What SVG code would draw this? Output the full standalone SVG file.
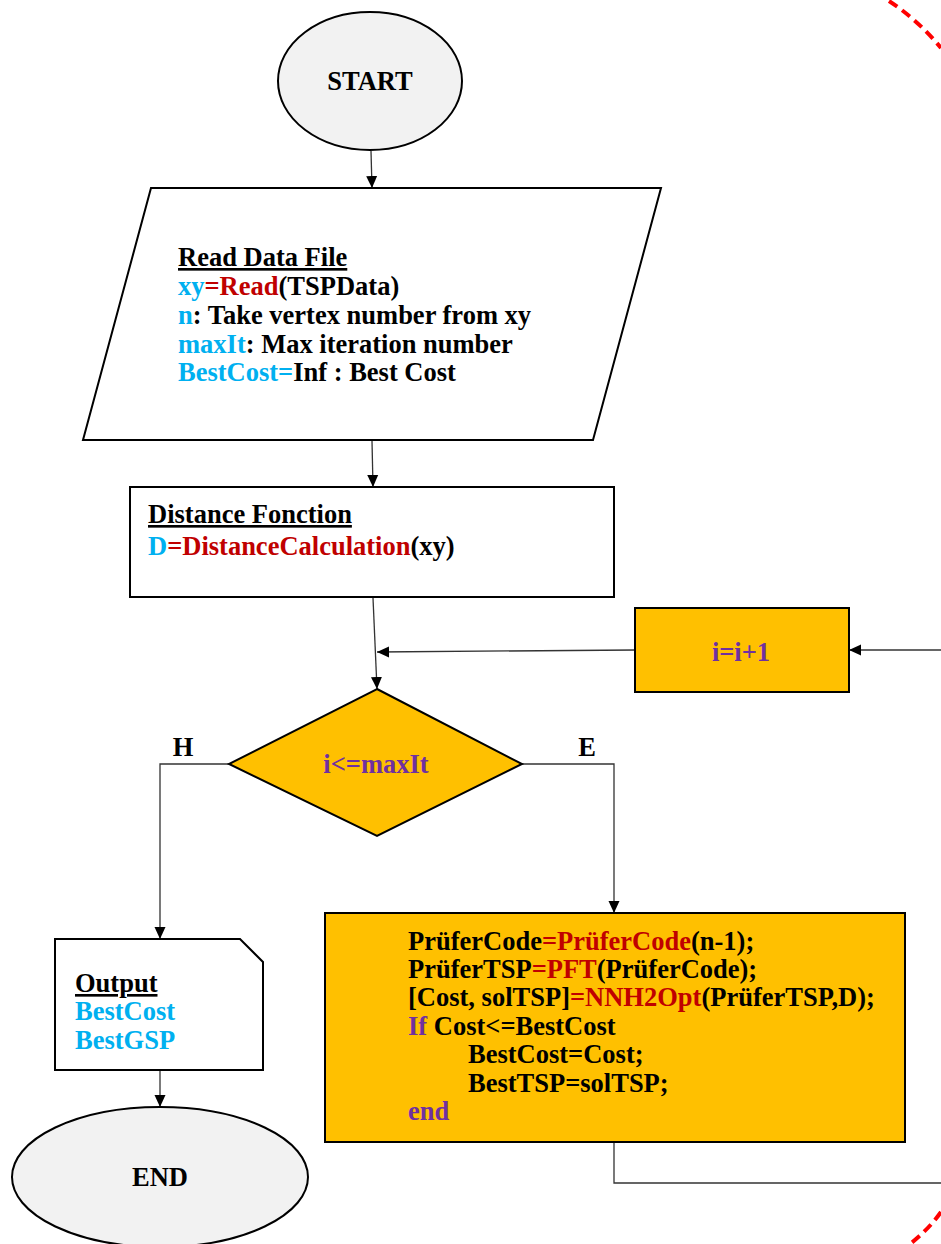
<svg xmlns="http://www.w3.org/2000/svg" width="941" height="1244" viewBox="0 0 941 1244">
<style>
text{font-family:"Liberation Serif","Times New Roman",serif;font-weight:bold;font-size:26.5px;fill:#000}
.node{stroke:#000;stroke-width:2}
.term{fill:#F2F2F2}
.w{fill:#fff}
.o{fill:#FFC000}
.c{fill:#00B0F0}
.r{fill:#C00000}
.p{fill:#7030A0}
.u{text-decoration:underline}
.conn{fill:none;stroke:#333;stroke-width:1.3}
</style>
<defs>
<marker id="ah" markerWidth="13" markerHeight="13" refX="12" refY="6.5" orient="auto" markerUnits="userSpaceOnUse">
<path d="M0,1 L12,6.5 L0,12 Z" fill="#000"/>
</marker>
</defs>
<g id="connectors">
<line class="conn" x1="371" y1="151" x2="372" y2="188" marker-end="url(#ah)"/>
<line class="conn" x1="372" y1="441" x2="373" y2="487" marker-end="url(#ah)"/>
<line class="conn" x1="373" y1="598" x2="377" y2="689" marker-end="url(#ah)"/>
<line class="conn" x1="635" y1="650" x2="377" y2="652" marker-end="url(#ah)"/>
<line class="conn" x1="941" y1="650" x2="849" y2="650" marker-end="url(#ah)"/>
<path class="conn" d="M229,764 H160 V939" marker-end="url(#ah)"/>
<path class="conn" d="M522,764 H614 V913" marker-end="url(#ah)"/>
<line class="conn" x1="160" y1="1071" x2="160" y2="1107" marker-end="url(#ah)"/>
<path class="conn" d="M614,1143 V1183 H941"/>
<text x="183" y="756" text-anchor="middle" font-size="22">H</text>
<text x="587" y="756" text-anchor="middle" font-size="22">E</text>
</g>
<g id="start">
<ellipse class="node term" cx="370" cy="81" rx="92" ry="69"/>
<text x="370" y="90" text-anchor="middle" font-size="24">START</text>
</g>
<g id="read">
<polygon class="node w" points="151,188 661,188 593,440 83,440"/>
<text x="178" y="266" class="u">Read Data File</text>
<text x="178" y="295"><tspan class="c">xy</tspan><tspan class="r">=Read</tspan>(TSPData)</text>
<text x="178" y="324"><tspan class="c">n</tspan>: Take vertex number from xy</text>
<text x="178" y="353"><tspan class="c">maxIt</tspan>: Max iteration number</text>
<text x="178" y="381"><tspan class="c">BestCost=</tspan>Inf : Best Cost</text>
</g>
<g id="distance">
<rect class="node w" x="130" y="487" width="484" height="110"/>
<text x="148" y="523" class="u">Distance Fonction</text>
<text x="148" y="555"><tspan class="c">D</tspan><tspan class="r">=DistanceCalculation</tspan>(xy)</text>
</g>
<g id="increment">
<rect class="node o" x="635" y="608" width="214" height="84"/>
<text x="741" y="661" text-anchor="middle" class="p">i=i+1</text>
</g>
<g id="decision">
<polygon class="node o" points="377,689 522,764 377,836 229,764"/>
<text x="376" y="773" text-anchor="middle" class="p">i&lt;=maxIt</text>
</g>
<g id="process">
<rect class="node o" x="325" y="913" width="580" height="229"/>
<text x="408" y="950">PrüferCode<tspan class="r">=PrüferCode</tspan>(n-1);</text>
<text x="408" y="978">PrüferTSP<tspan class="r">=PFT</tspan>(PrüferCode);</text>
<text x="408" y="1006">[Cost, solTSP]<tspan class="r">=NNH2Opt</tspan>(PrüferTSP,D);</text>
<text x="408" y="1035"><tspan class="p">If</tspan> Cost&lt;=BestCost</text>
<text x="468" y="1063">BestCost=Cost;</text>
<text x="468" y="1092">BestTSP=solTSP;</text>
<text x="408" y="1120" class="p">end</text>
</g>
<g id="output">
<polygon class="node w" points="55,939 240,939 263,962 263,1070 55,1070"/>
<text x="75" y="992" class="u">Output</text>
<text x="75" y="1020" class="c">BestCost</text>
<text x="75" y="1049" class="c">BestGSP</text>
</g>
<g id="end">
<ellipse class="node term" cx="160" cy="1177" rx="148" ry="70"/>
<text x="160" y="1186" text-anchor="middle" font-size="24">END</text>
</g>
<g id="highlight">
<path d="M889,1 Q918,20 941,48" fill="none" stroke="#FF0000" stroke-width="4" stroke-dasharray="10,6"/>
<path d="M941,1212 Q928,1230 910,1244" fill="none" stroke="#FF0000" stroke-width="4" stroke-dasharray="10,6"/>
</g>
</svg>
